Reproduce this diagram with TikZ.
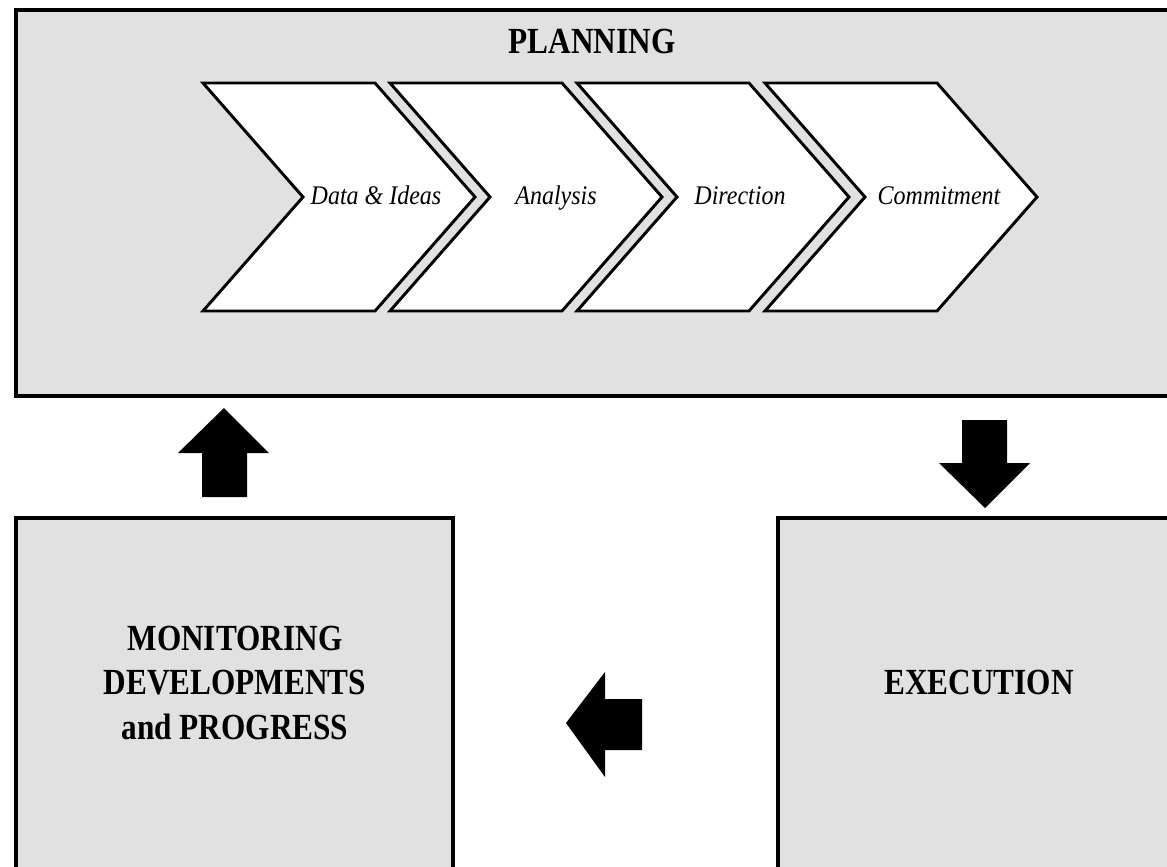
\documentclass[tikz,border=0pt]{standalone}
\usepackage{fontspec}
\setmainfont{Liberation Serif}

\definecolor{panelgray}{RGB}{225,225,225}

% tall type for the labels
\newcommand{\tallbold}[1]{\scalebox{1.02}[1.2]{\begin{tabular}{@{}c@{}}#1\end{tabular}}}
\newcommand{\tallital}[1]{\scalebox{1}[1.12]{#1}}

\tikzset{
  panel/.style={draw=black, line width=3pt, fill=panelgray},
  chevron/.style={draw=black, line width=2.2pt, fill=white, line join=miter},
  stagetext/.style={font=\itshape\fontsize{18}{20}\selectfont, inner sep=0.75pt, anchor=base},
  paneltext/.style={font=\bfseries\fontsize{23}{28}\selectfont, inner sep=0.75pt},
  blockarrow/.style={fill=black},
}

\begin{document}
\begin{tikzpicture}[x=0.75pt,y=0.75pt,yscale=-1,xscale=1]
    \useasboundingbox (0,0) rectangle (1167,867);
    \fill[white] (0,0) rectangle (1167,867);
    \clip (0,0) rectangle (1167,867);

    % Panels (run off the page on the right and bottom)
    \draw[panel] (15.5,10.5) rectangle (1190,396);
    \draw[panel] (15.5,518) rectangle (453,890);
    \draw[panel] (778,518) rectangle (1190,890);

    % Panel titles
    \node[paneltext] (planning) at (592,45) {\tallbold{PLANNING}};
    \node[paneltext] (monitoring) at (235,686) {\tallbold{MONITORING\\DEVELOPMENTS\\and PROGRESS}};
    \node[paneltext] (execution) at (979,686) {\tallbold{EXECUTION}};

    % Planning stages: left corner / text centre / label
    \foreach \x/\tx/\lbl/\name in {203/376/Data \& Ideas/data, 390/556/Analysis/analysis, 577/740/Direction/direction, 765/939/Commitment/commitment}{
      \draw[chevron] (\x,83) -- ++(172,0) -- ++(100,114) -- ++(-100,114) -- ++(-172,0) -- ++(100,-114) -- cycle;
      \node[stagetext] (\name) at (\tx,204) {\tallital{\lbl}};
    }

    % Block arrows of the cycle
    \fill[blockarrow] (224,408) -- (269,453) -- (247,453) -- (247,497) -- (202,497) -- (202,453) -- (178,453) -- cycle;
    \fill[blockarrow] (985,508) -- (1030,463) -- (1007,463) -- (1007,420) -- (962,420) -- (962,463) -- (939,463) -- cycle;
    \fill[blockarrow] (566,723) -- (605,672) -- (605,699) -- (642,699) -- (642,750) -- (605,750) -- (605,777) -- cycle;
\end{tikzpicture}
\end{document}
